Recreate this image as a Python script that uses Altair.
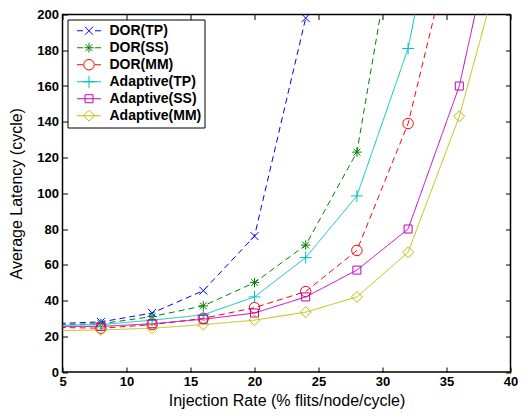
import altair as alt
import pandas as pd

# ---------------- data ----------------
series = ["DOR(TP)", "DOR(SS)", "DOR(MM)", "Adaptive(TP)", "Adaptive(SS)", "Adaptive(MM)"]
rate = [4, 8, 12, 16, 20, 24, 28, 32, 36, 40]
dor_tp = [27, 28, 33, 45.5, 76, 198]
dor_ss = [26.5, 27, 31, 37, 50, 71, 123, 290]
dor_mm = [25, 24.5, 26.5, 30, 36, 45, 68, 139, 257]
ad_tp = [26, 26.5, 29, 32, 42, 64, 98.5, 181, 325]
ad_ss = [25.5, 25.5, 27, 29.5, 33, 42, 57, 80, 160, 290]
ad_mm = [23, 23.5, 24.5, 26.5, 29, 33.5, 42, 67, 143, 248]
x_ticks = [5, 10, 15, 20, 25, 30, 35, 40]
y_ticks = [0, 20, 40, 60, 80, 100, 120, 140, 160, 180, 200]

values = [dor_tp, dor_ss, dor_mm, ad_tp, ad_ss, ad_mm]
rows = []
for name, vals in zip(series, values):
    for xv, yv in zip(rate, vals):
        rows.append({"series": name, "rate": xv, "latency": yv})
df = pd.DataFrame(rows)
legend_df = pd.DataFrame({"entry": series})

# ---------------- styles ----------------
colors = ["#0000ff", "#008000", "#ff0000", "#00bfbf", "#bf00bf", "#bfbf00"]
dashed = [True, True, True, False, False, False]
marker_kind = ["x", "star", "circle", "plus", "square", "diamond"]
marker_k = {"x": 0.8, "star": 0.95, "circle": 1.05, "plus": 1.2, "square": 0.8, "diamond": 1.1}


def f(v):
    return f"{v:.3f}".rstrip("0").rstrip(".")


def marker_path(kind, k):
    if kind == "x":
        return f"M{f(-k)},{f(-k)}L{f(k)},{f(k)}M{f(-k)},{f(k)}L{f(k)},{f(-k)}"
    if kind == "star":
        d = k * 0.72
        return (f"M{f(-k)},0L{f(k)},0M0,{f(-k)}L0,{f(k)}"
                f"M{f(-d)},{f(-d)}L{f(d)},{f(d)}M{f(-d)},{f(d)}L{f(d)},{f(-d)}")
    if kind == "circle":
        return f"M{f(k)},0A{f(k)},{f(k)},0,1,1,{f(-k)},0A{f(k)},{f(k)},0,1,1,{f(k)},0Z"
    if kind == "plus":
        return f"M{f(-k)},0L{f(k)},0M0,{f(-k)}L0,{f(k)}"
    if kind == "square":
        return f"M{f(-k)},{f(-k)}L{f(k)},{f(-k)}L{f(k)},{f(k)}L{f(-k)},{f(k)}Z"
    if kind == "diamond":
        return f"M0,{f(-k)}L{f(k)},0L0,{f(k)}L{f(-k)},0Z"


plot_size = 100  # unit -> 10 px
legend_size = 576  # unit -> 24 px
scale_leg = 5.0 / 12.0

plot_shapes = [marker_path(m, marker_k[m]) for m in marker_kind]
legend_shapes = []
for m, dsh in zip(marker_kind, dashed):
    line = "M-1,0L-0.5,0M0.5,0L1,0" if dsh else "M-1,0L1,0"
    legend_shapes.append(line + marker_path(m, marker_k[m] * scale_leg))

dash_range = [[6, 4] if d else [1, 0] for d in dashed]

FONT = "Liberation Sans"

x_scale = alt.Scale(domain=[5, 40], nice=False, zero=False)
y_scale = alt.Scale(domain=[0, 200], nice=False, zero=False)
color_scale = alt.Scale(domain=series, range=colors)

axis_common = dict(
    domain=False, grid=False, tickSize=5, offset=-5,
    tickColor="black", tickWidth=1, labelColor="black", labelFont=FONT,
    labelFontSize=13, labelFontWeight="bold", labelFlush=False,
    labelOverlap=False, titleColor="black", titleFont=FONT,
    titleFontSize=16, titleFontWeight="normal",
)


def axis(**kw):
    d = dict(axis_common)
    d.update(kw)
    return alt.Axis(**d)


base = alt.Chart(df)

lines = base.mark_line(clip=True, strokeWidth=1).encode(
    x=alt.X("rate:Q", scale=x_scale,
            axis=axis(values=x_ticks, orient="bottom", labelPadding=3,
                      title="Injection Rate (% flits/node/cycle)", titlePadding=4)),
    y=alt.Y("latency:Q", scale=y_scale,
            axis=axis(values=y_ticks, orient="left", labelPadding=4,
                      title="Average Latency (cycle)", titlePadding=12)),
    color=alt.Color("series:N", scale=color_scale, legend=None),
    strokeDash=alt.StrokeDash("series:N", scale=alt.Scale(domain=series, range=dash_range), legend=None),
)

points = base.mark_point(clip=True, filled=False, strokeWidth=1, size=plot_size, opacity=1).encode(
    x=alt.X("rate:Q", scale=x_scale, title="",
            axis=axis(values=x_ticks, orient="top", labels=False, title="")),
    y=alt.Y("latency:Q", scale=y_scale, title="",
            axis=axis(values=y_ticks, orient="right", labels=False, title="")),
    color=alt.Color("series:N", scale=color_scale, legend=None),
    shape=alt.Shape("series:N", scale=alt.Scale(domain=series, range=plot_shapes), legend=None),
)

legend_layer = alt.Chart(legend_df).mark_point(filled=False, strokeWidth=1, opacity=0).encode(
    color=alt.Color("entry:N", scale=color_scale, title=None),
    shape=alt.Shape("entry:N", scale=alt.Scale(domain=series, range=legend_shapes), title=None),
)

chart = (
    alt.layer(lines, points, legend_layer)
    .resolve_scale(color="independent", shape="independent")
    .resolve_axis(x="independent", y="independent")
    .properties(
        width=448, height=357.5,
        autosize=alt.AutoSizeParams(type="none"),
        padding={"left": 54.5, "top": 6.5, "right": 7.5, "bottom": 37},
    )
    .configure(font=FONT)
    .configure_view(stroke="black", strokeWidth=1.5)
    .configure_legend(
        orient="top-left", offset=5, padding=3, strokeColor="black", strokeWidth=1,
        fillColor="white", cornerRadius=0, symbolOffset=6, labelOffset=8,
        clipHeight=16.5, rowPadding=0, symbolSize=legend_size, symbolStrokeWidth=1,
        symbolOpacity=1, symbolFillColor="transparent", labelFont=FONT,
        labelFontSize=14, labelFontWeight="bold", labelColor="black", labelLimit=300,
    )
)

chart.save("out.html", embed_options={"renderer": "svg", "actions": False})
